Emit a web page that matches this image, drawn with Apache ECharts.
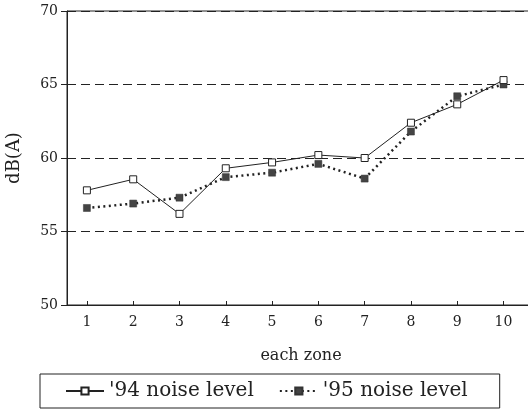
<!DOCTYPE html>
<html>
<head>
<meta charset="utf-8">
<script src="https://cdn.jsdelivr.net/npm/echarts@6/dist/echarts.min.js"></script>
<style>
  html, body { margin: 0; padding: 0; background: #fff; }
  #main { width: 528px; height: 411px; }
</style>
</head>
<body>
<div id="main"></div>
<script>
// zone numbers along the bottom
var zones = [1, 2, 3, 4, 5, 6, 7, 8, 9, 10];
// noise level dB(A)
var noise94 = [57.8, 58.55, 56.2, 59.3, 59.7, 60.2, 60.0, 62.4, 63.65, 65.3];
var noise95 = [56.6, 56.9, 57.3, 58.7, 59.0, 59.6, 58.6, 61.8, 64.2, 65.0];
var yTicks = [50, 55, 60, 65, 70];

var serif = 'DejaVu Serif';
var ink = '#222';

function pairs(vals) {
    return zones.map(function (z, i) { return [z, vals[i]]; });
}

var myChart = echarts.init(document.getElementById('main'));

option = {
    backgroundColor: '#fff',
    animation: false,
    textStyle: { fontFamily: serif, color: ink },
    grid: {
        left: 67,
        top: 11,
        bottom: 106,
        right: -7,
        containLabel: false,
        outerBoundsMode: 'none',
        show: true,
        borderColor: ink,
        borderWidth: 1
    },
    legend: {
        left: 40,
        top: 374,
        itemWidth: 38,
        itemHeight: 9,
        itemGap: 25,
        padding: [7, 32, 7, 25],
        borderColor: ink,
        borderWidth: 1,
        textStyle: { fontFamily: serif, fontSize: 20, color: ink },
        data: ['\'94 noise level', '\'95 noise level']
    },
    xAxis: {
        type: 'value',
        min: 0.57,
        max: 10.68,
        name: 'each zone',
        nameLocation: 'middle',
        nameGap: 43,
        nameTextStyle: { fontFamily: serif, fontSize: 16, color: ink },
        axisLine: { lineStyle: { color: ink } },
        axisTick: { inside: true, length: 4, customValues: zones, lineStyle: { color: ink } },
        axisLabel: { customValues: zones, margin: 10, fontFamily: serif, fontSize: 14, color: ink },
        splitLine: { show: false }
    },
    yAxis: {
        type: 'value',
        min: yTicks[0],
        max: yTicks[yTicks.length - 1],
        interval: 5,
        name: 'dB(A)',
        nameLocation: 'middle',
        nameRotate: 90,
        nameGap: 44,
        nameTextStyle: { fontFamily: serif, fontSize: 18, color: ink },
        axisLine: { show: true, lineStyle: { color: ink } },
        axisTick: { show: true, length: 6, lineStyle: { color: ink } },
        axisLabel: { margin: 9, fontFamily: serif, fontSize: 14, color: ink },
        splitLine: { show: true, lineStyle: { color: ink, type: [9, 5], width: 1 } }
    },
    series: [
        {
            name: '\'94 noise level',
            type: 'line',
            data: pairs(noise94),
            symbol: 'rect',
            symbolSize: 7,
            lineStyle: { color: ink, width: 1 },
            itemStyle: { color: '#fff', borderColor: ink, borderWidth: 1 },
            z: 3
        },
        {
            name: '\'95 noise level',
            type: 'line',
            data: pairs(noise95),
            symbol: 'rect',
            symbolSize: 7,
            lineStyle: { color: ink, width: 2.5, type: [2, 3.5] },
            itemStyle: { color: '#444', borderColor: '#333', borderWidth: 0.5 },
            z: 2
        }
    ]
};

myChart.setOption(option);
</script>
</body>
</html>
